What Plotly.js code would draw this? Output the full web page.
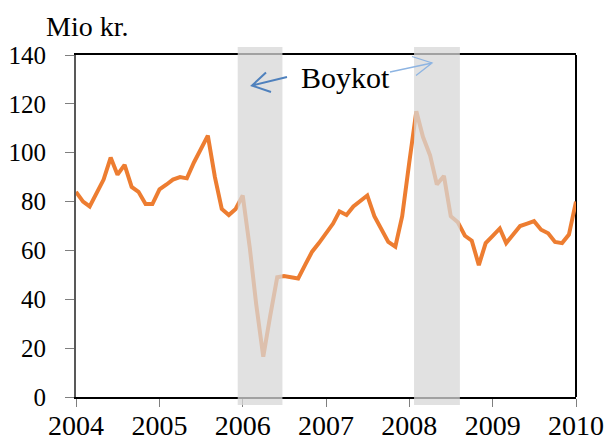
<!DOCTYPE html>
<html>
<head>
<meta charset="utf-8">
<script src="https://cdn.plot.ly/plotly-3.0.1.min.js"></script>
<style>html,body{margin:0;padding:0;background:#fff;}#chart{width:606px;height:441px;}</style>
</head>
<body>
<div id="chart"></div>
<script>
// Monthly values (Mio kr.), Jan 2004 .. Jan 2010
const startYear = 2004;
const values = [
  84, 80, 78, 84, 89, 98, 91, 95, 86, 84, 79, 79,          // 2004
  85, 87, 89, 90, 89.5, 96, 101, 107, 90, 77, 74.5, 77,    // 2005
  82.5, 61, 38, 16.5, 33, 49, 49.5, 49, 48.5, 54, 59.5, 63, // 2006
  67, 71, 76, 74.5, 78, 80.5, 82.5, 74, 68.5, 63.5, 61.5, 74, // 2007
  96, 117, 106.5, 99, 87, 90.5, 74, 71.5, 66, 64, 54, 63,  // 2008
  66, 69, 63, 66.5, 70, 71, 72, 68.5, 67, 63.5, 63, 66.5,  // 2009
  80                                                       // Jan 2010
];
const yTicks = [0, 20, 40, 60, 80, 100, 120, 140];
const boycottPeriods = [
  ['2005-12-10', '2006-06-24'],
  ['2008-01-22', '2008-08-10']
];
const yTitle = 'Mio kr.';
const annotationText = 'Boykot';

// month dates for x axis
const dates = values.map((v, i) => {
  const y = startYear + Math.floor(i / 12);
  const m = (i % 12) + 1;
  return y + '-' + String(m).padStart(2, '0') + '-01';
});

const FONT = "'Liberation Serif', 'Times New Roman', Times, serif";

// plot area in pixels
const L = 76, R = 576, T = 55, B = 397;
const px = X => (X - L) / (R - L);
const py = Y => (B - Y) / (B - T);
const P = (X, Y) => px(X).toFixed(4) + ',' + py(Y).toFixed(4);

const shapes = [];
boycottPeriods.forEach(p => {
  shapes.push({
    type: 'rect', xref: 'x', yref: 'paper',
    x0: p[0], x1: p[1], y0: py(405), y1: py(47),
    fillcolor: 'rgba(215,215,215,0.75)', line: {width: 0}, layer: 'above'
  });
});
// right frame line
shapes.push({type: 'line', xref: 'paper', yref: 'paper', x0: 1, x1: 1, y0: 0, y1: 1,
  line: {color: '#000', width: 2}, layer: 'below'});
// arrows
shapes.push({type: 'path', xref: 'paper', yref: 'paper',
  path: 'M' + P(287, 77) + ' L' + P(252, 85.5) + ' M' + P(266, 72.5) + ' L' + P(252, 85.5) + ' L' + P(271, 92),
  line: {color: '#4F81BD', width: 2}, layer: 'above'});
shapes.push({type: 'path', xref: 'paper', yref: 'paper',
  path: 'M' + P(390, 72) + ' L' + P(432, 63) + ' M' + P(412, 56.5) + ' L' + P(432, 63) + ' L' + P(416, 75.5),
  line: {color: '#8DB4E2', width: 1.3}, layer: 'above'});

const trace = {
  x: dates, y: values, type: 'scatter', mode: 'lines',
  line: {color: '#ED7D31', width: 4},
  hoverinfo: 'skip'
};

const layout = {
  width: 606, height: 441,
  margin: {l: L, r: 606 - R, t: T, b: 441 - B},
  paper_bgcolor: '#fff', plot_bgcolor: '#fff',
  showlegend: false,
  font: {family: FONT, color: '#000', size: 25},
  xaxis: {
    type: 'date', range: ['2004-01-01', '2010-01-01'],
    dtick: 'M12', tick0: '2004-01-01', tickformat: '%Y',
    ticks: 'outside', ticklen: 8, tickcolor: '#7f7f7f', tickwidth: 1,
    showline: true, linecolor: '#000', linewidth: 2, mirror: true,
    showgrid: false, zeroline: false,
    ticklabelstandoff: -6,
    tickfont: {size: 28, family: FONT, color: '#000'}
  },
  yaxis: {
    range: [0, 140], tickvals: yTicks,
    ticks: 'outside', ticklen: 9, tickcolor: '#7f7f7f', tickwidth: 1,
    showline: true, linecolor: '#595959', linewidth: 2,
    showgrid: false, zeroline: false,
    ticklabelstandoff: 14,
    tickfont: {size: 25, family: FONT, color: '#000'}
  },
  shapes: shapes,
  annotations: [
    {text: yTitle, xref: 'paper', yref: 'paper', x: px(44), y: py(26),
     xanchor: 'left', yanchor: 'middle', showarrow: false,
     font: {size: 28, family: FONT, color: '#000'}},
    {text: annotationText, xref: 'paper', yref: 'paper', x: px(345), y: py(77),
     xanchor: 'center', yanchor: 'middle', showarrow: false,
     font: {size: 30, family: FONT, color: '#000'}}
  ]
};

Plotly.newPlot('chart', [trace], layout, {staticPlot: true, displayModeBar: false});
</script>
</body>
</html>
